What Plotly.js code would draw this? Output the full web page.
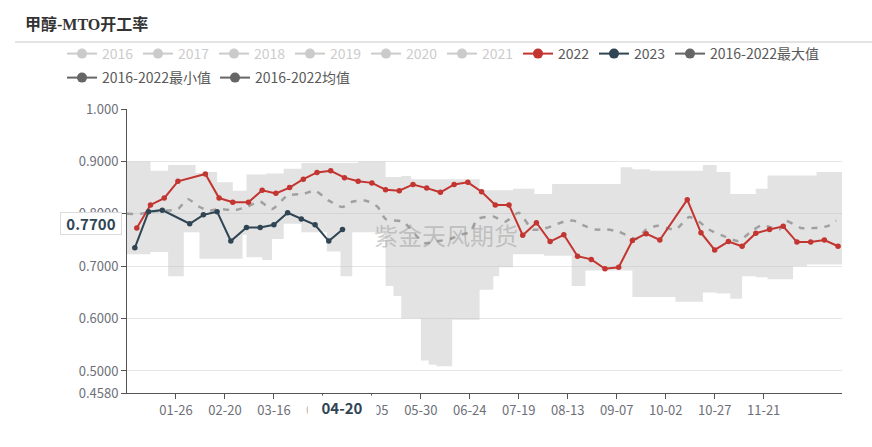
<!DOCTYPE html>
<html>
<head>
<meta charset="utf-8">
<script src="https://cdn.plot.ly/plotly-3.0.1.min.js"></script>
<style>
html,body{margin:0;padding:0;background:#fff;}
#chart{width:872px;height:447px;}
</style>
</head>
<body>
<div id="chart"></div>
<script>
// Calendar axis uses a leap-year day grid (MM-DD), values placed by month-day
const BASE_YEAR = '2020-';

const xTickLabels = ['01-26','02-20','03-16','04-10','05-05','05-30','06-24','07-19','08-13','09-07','10-02','10-27','11-21'];
const yTickVals = [0.458, 0.5, 0.6, 0.7, 0.8, 0.9, 1.0];
const yTickText = ['0.4580','0.5000','0.6000','0.7000','0.8000','0.9000','1.000'];

const inactiveYears = ['2016','2017','2018','2019','2020','2021'];
const statNames = ['2016-2022最大值','2016-2022最小值','2016-2022均值'];

const dates2022 = ['01-06','01-13','01-20','01-27','02-10','02-17','02-24','03-03','03-10','03-17','03-24','03-31',
  '04-07','04-14','04-21','04-28','05-05','05-12','05-19','05-26','06-02','06-09','06-16','06-23','06-30',
  '07-07','07-14','07-21','07-28','08-04','08-11','08-18','08-25','09-01','09-08','09-15','09-22','09-29',
  '10-13','10-20','10-27','11-03','11-10','11-17','11-24','12-01','12-08','12-15','12-22','12-29'];
const values2022 = [0.773,0.817,0.830,0.862,0.876,0.830,0.822,0.822,0.845,0.839,0.850,0.866,
  0.879,0.882,0.869,0.862,0.859,0.846,0.844,0.856,0.849,0.841,0.856,0.860,0.842,
  0.817,0.817,0.759,0.783,0.747,0.760,0.719,0.713,0.695,0.698,0.749,0.762,0.750,
  0.827,0.764,0.731,0.747,0.738,0.763,0.770,0.776,0.746,0.746,0.750,0.738];

const dates2023 = ['01-05','01-12','01-19','02-02','02-09','02-16','02-23','03-02','03-09','03-16','03-23','03-30','04-06','04-13','04-20'];
const values2023 = [0.735,0.804,0.807,0.781,0.798,0.804,0.748,0.774,0.774,0.779,0.802,0.790,0.779,0.748,0.770];

const avgDates = ['01-01','01-08','01-13','01-20','01-27','02-01','02-07','02-12','02-17','02-25','03-02','03-09','03-15','03-23','03-31',
  '04-06','04-13','04-20','04-25','05-02','05-08','05-12','05-21','05-28','06-01','06-08','06-14','06-19','06-24','06-28',
  '07-06','07-12','07-19','07-26','08-01','08-06','08-11','08-16','08-21','08-27','09-02','09-08','09-17','09-22','09-28',
  '10-07','10-14','10-19','10-24','11-01','11-08','11-16','11-20','11-24','11-29','12-02','12-10','12-17','12-24','12-28'];
const avgValues = [0.800,0.800,0.804,0.806,0.809,0.828,0.813,0.806,0.809,0.807,0.813,0.823,0.809,0.835,0.838,
  0.844,0.825,0.813,0.823,0.825,0.813,0.790,0.785,0.757,0.744,0.748,0.752,0.760,0.765,0.790,
  0.795,0.785,0.802,0.770,0.772,0.778,0.785,0.787,0.778,0.770,0.770,0.766,0.752,0.770,0.777,
  0.770,0.794,0.785,0.770,0.757,0.748,0.770,0.778,0.775,0.770,0.787,0.773,0.773,0.777,0.787];

const bandDates = ['01-01','01-13','01-22','01-30','02-05','02-07','02-11','02-16','02-24','02-29','03-02','03-10','03-12','03-15','03-21','03-30',
  '04-12','04-19','04-25','04-28','05-12','05-16','05-20','05-25','05-30','06-03','06-07','06-15','06-29','07-06','07-09','07-16','07-27',
  '08-01','08-05','08-15','08-22','09-09','09-15','09-24','10-07','10-21','10-28','11-04','11-10','11-17','11-23','12-06','12-13','12-18','12-31'];
const bandMax = [0.900,0.882,0.893,0.893,0.878,0.878,0.880,0.860,0.844,0.844,0.875,0.875,0.877,0.877,0.886,0.897,
  0.897,0.897,0.897,0.900,0.870,0.870,0.872,0.866,0.866,0.866,0.866,0.866,0.845,0.845,0.845,0.848,0.838,
  0.838,0.857,0.857,0.857,0.889,0.885,0.882,0.882,0.893,0.880,0.838,0.838,0.848,0.873,0.873,0.873,0.880,0.880];
const bandMin = [0.723,0.727,0.681,0.765,0.765,0.714,0.714,0.714,0.714,0.760,0.717,0.712,0.712,0.752,0.781,0.765,
  0.728,0.681,0.765,0.765,0.662,0.643,0.600,0.600,0.520,0.512,0.509,0.598,0.655,0.681,0.698,0.723,0.723,
  0.720,0.720,0.662,0.692,0.692,0.641,0.641,0.632,0.650,0.648,0.638,0.681,0.679,0.675,0.700,0.703,0.703,0.703];

const pointerDate = '04-20';
const pointerValue = '0.7700';

const toD = md => BASE_YEAR + md;
const FONT = 'Noto Sans CJK SC, Roboto, sans-serif';
const C2022 = '#c23531', C2023 = '#2f4554', CSTAT = '#666666', CINACTIVE = '#999999';

const L = 127, R = 30, T = 109, B = 54, W = 872, H = 447;
const PW = W - L - R, PH = H - T - B;
const px2x = p => (p - L) / PW;
const py2y = p => (H - B - p) / PH;

const traces = [];

// band: min (no line) then max filled to min
traces.push({
  type:'scatter', mode:'lines', x:bandDates.map(toD), y:bandMin, line:{width:0, shape:'hv', color:'rgba(0,0,0,0)'},
  showlegend:false, hoverinfo:'skip'
});
traces.push({
  type:'scatter', mode:'lines', x:bandDates.map(toD), y:bandMax, fill:'tonexty', fillcolor:'rgba(185,185,185,0.4)',
  line:{width:0, shape:'hv', color:'rgba(0,0,0,0)'}, showlegend:false, hoverinfo:'skip'
});
// average
traces.push({
  type:'scatter', mode:'lines', x:avgDates.map(toD), y:avgValues, line:{color:'#a0a0a0', width:2.5, dash:'6px,7px', shape:'spline', smoothing:0.6},
  showlegend:false
});
// 2022
traces.push({
  type:'scatter', mode:'lines+markers', x:dates2022.map(toD), y:values2022, line:{color:C2022, width:2},
  marker:{color:C2022, size:5.5}, showlegend:false
});
// 2023
traces.push({
  type:'scatter', mode:'lines+markers', x:dates2023.map(toD), y:values2023, line:{color:C2023, width:2},
  marker:{color:C2023, size:5.5}, showlegend:false
});

// legend entries, each in its own legend box (placed like the reference's wrapped legend)
const legendItems = [];
inactiveYears.forEach(y => legendItems.push({name:'<span style="color:#999">'+y+'</span>', color:CINACTIVE, off:true}));
legendItems.push({name:'2022', color:C2022});
legendItems.push({name:'2023', color:C2023});
statNames.forEach(n => legendItems.push({name:n, color:CSTAT}));

const legendPos = [[67,38],[143,38],[219,38],[295,38],[371,38],[447,38],[523,38],[599,38],[675,38],[67,62],[220,62]];

const layoutLegends = {};
legendItems.forEach((it, i) => {
  const key = i === 0 ? 'legend' : 'legend' + (i + 1);
  traces.push({
    type:'scatter', mode:'lines+markers', x:[null], y:[null], name:it.name, legend:key, showlegend:true,
    visible: it.off ? 'legendonly' : true,
    line:{color:it.color, width:2}, marker:{color:it.color, size:10}
  });
  layoutLegends[key] = {
    orientation:'h', xanchor:'left', yanchor:'top', bgcolor:'rgba(0,0,0,0)',
    x:px2x(legendPos[i][0] - 5), y:py2y(legendPos[i][1]),
    font:{family:FONT, size:14, color:'#595959'}
  };
});

const layout = Object.assign({
  width:W, height:H,
  margin:{l:L, r:R, t:T, b:B, pad:0},
  paper_bgcolor:'#fff', plot_bgcolor:'#fff',
  font:{family:FONT, color:'#666'},
  title:{text:'<b>甲醇-MTO开工率</b>', x:25/W, xref:'container', xanchor:'left', y:1-24/H, yref:'container', yanchor:'middle',
    font:{family:'Liberation Serif, Noto Sans CJK SC, serif', size:16, color:'#333'}},
  showlegend:true,
  xaxis:{
    type:'date', range:[toD('01-01'), toD('12-31')],
    tickvals:xTickLabels.map(toD), ticktext:xTickLabels,
    showgrid:false, zeroline:false, showline:true, linecolor:'#555', linewidth:1,
    ticks:'outside', ticklen:5, tickcolor:'#555',
    tickfont:{family:FONT, size:13, color:'#6e7079'}
  },
  yaxis:{
    range:[0.458, 1.0], tickvals:yTickVals, ticktext:yTickText,
    showgrid:true, gridcolor:'#e6e6e6', zeroline:false, showline:true, linecolor:'#555', linewidth:1,
    ticks:'outside', ticklen:5, tickcolor:'#555',
    tickfont:{family:FONT, size:13, color:'#6e7079'}
  },
  shapes:[{type:'line', xref:'paper', yref:'paper', x0:px2x(15), x1:px2x(872), y0:py2y(42), y1:py2y(42),
    line:{color:'#c8c8c8', width:1}}],
  annotations:[
    {text:'紫金天风期货', xref:'paper', yref:'paper', x:px2x(446), y:py2y(234), showarrow:false,
      font:{family:FONT, size:24, color:'rgba(140,140,140,0.42)'}},
    {text:'<b>'+pointerValue+'</b>', xref:'paper', yref:'y', x:px2x(91), y:parseFloat(pointerValue), yshift:6,
      xanchor:'center', yanchor:'middle', showarrow:false, bgcolor:'#fff', bordercolor:'#dcdcdc', borderwidth:1, borderpad:1,
      width:58, height:19,
      font:{family:FONT, size:15, color:C2023}},
    {text:'<b>'+pointerDate+'</b>', xref:'x', yref:'paper', x:toD(pointerDate), y:py2y(407), yanchor:'middle',
      showarrow:false, bgcolor:'#fff', width:68, height:22, borderpad:0,
      font:{family:FONT, size:15, color:C2023}}
  ]
}, layoutLegends);

Plotly.newPlot('chart', traces, layout, {displayModeBar:false});
</script>
</body>
</html>
